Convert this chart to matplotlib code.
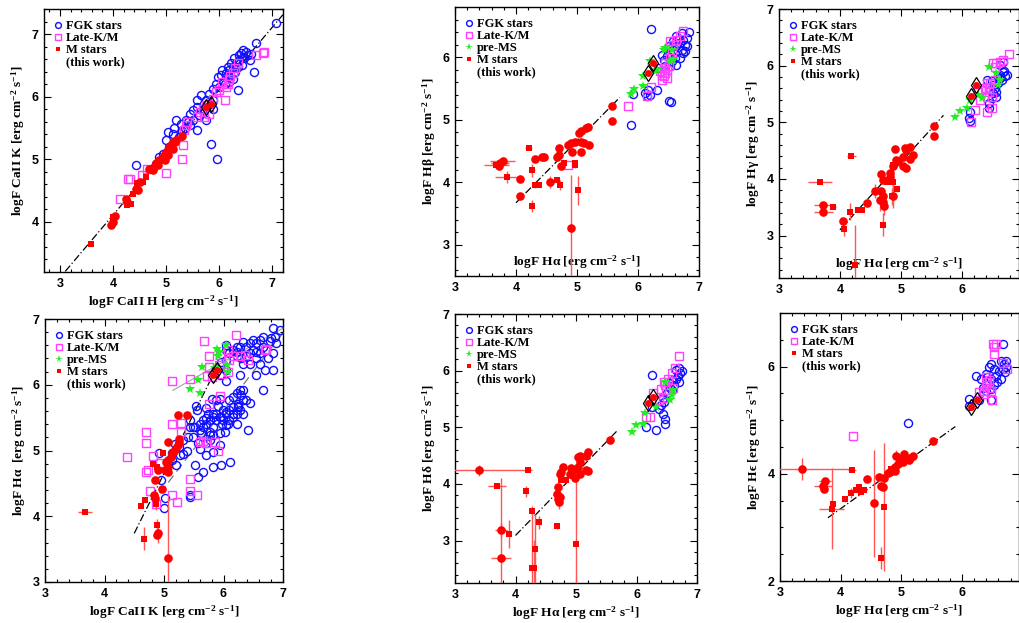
import matplotlib
matplotlib.use("Agg")
import matplotlib.pyplot as plt
from matplotlib.ticker import MultipleLocator
from matplotlib.lines import Line2D
import numpy as np

plt.rcParams['font.family'] = ['Liberation Serif', 'DejaVu Serif']
plt.rcParams['font.weight'] = 'bold'
plt.rcParams['mathtext.default'] = 'regular'

# ---------------- Panel 1 : CaII K vs CaII H ----------------
p1_fgk_x = [7.07,6.70,6.41,6.44,6.38,6.32,6.25,6.57,6.66,6.19,6.13,6.06,6.03,6.35,5.94,5.88,6.0,5.81,5.66,5.59,5.75,5.88,5.5,5.44,5.59,5.69,5.88,5.38,5.5,5.59,5.75,5.28,5.85,6.16,6.25,6.19,6.1,6.5,6.44,6.38,6.28,5.97,6.16,6.22,6.35,5.95,4.44,4.94,5.03,5.0,5.19,4.81,5.13,4.87,5.05,5.25,5.15,6.47,6.42,6.3,5.78,5.62,5.35,5.42,6.55,6.6,5.3,5.45]
p1_fgk_y = [7.18,6.85,6.69,6.64,6.59,6.53,6.48,6.59,6.40,6.43,6.37,6.43,6.35,6.11,6.21,6.13,6.16,6.05,6.03,5.95,5.95,5.95,5.79,5.73,5.84,5.81,5.81,5.63,5.63,5.47,5.63,5.57,5.25,6.32,6.29,6.24,6.21,6.72,6.75,6.67,6.61,6.32,6.48,6.53,6.48,5.0,4.91,5.09,5.44,5.31,5.63,4.93,5.41,5.04,5.2,5.35,5.5,6.62,6.5,6.4,5.88,5.7,5.5,5.6,6.66,6.68,5.45,5.55]
p1_lkm_x = [6.82,6.85,6.69,6.35,6.25,6.19,6.16,6.13,6.06,6.0,5.94,6.1,5.88,5.81,5.75,5.69,5.63,5.59,5.72,5.81,5.38,5.34,5.31,4.14,4.28,4.32,4.54,4.64,5.0,5.3,5.4,6.2,6.3]
p1_lkm_y = [6.69,6.71,6.66,6.53,6.37,6.29,6.21,6.16,6.24,6.11,6.08,5.95,5.97,5.89,5.87,5.81,5.76,5.68,5.68,5.73,5.55,5.47,5.23,4.37,4.69,4.69,4.75,4.85,4.78,5.01,5.6,6.33,6.45]
p1_pms_x = []
p1_pms_y = []
p1_mc_x = [3.97,4.0,4.03,4.24,4.27,4.47,4.44,4.5,4.67,4.72,4.78,4.81,4.87,4.94,4.97,5.0,5.03,5.06,5.09,5.13,5.16,5.19,5.3,4.97,4.84,4.75,5.13,5.03]
p1_mc_y = [3.95,4.0,4.09,4.36,4.32,4.51,4.53,4.64,4.84,4.85,4.88,4.94,4.99,5.04,5.09,5.12,5.15,5.2,5.23,5.28,5.28,5.31,5.37,4.99,4.91,4.83,5.17,5.07]
p1_mc_xerr = [0]*28
p1_mc_yerr = [0]*28
p1_ms_x = [3.59,4.0,4.0,4.27,4.33,4.37,4.45,4.56,4.62]
p1_ms_y = [3.65,4.08,3.98,4.27,4.28,4.44,4.62,4.64,4.72]
p1_ms_xerr = [0]*9
p1_ms_yerr = [0]*9
p1_dia_x = [5.75,5.85]
p1_dia_y = [5.84,5.89]

# ---------------- Panel 2 : Hbeta vs Halpha ----------------
p2_fgk_x = [6.22,6.84,5.89,6.19,6.14,6.11,6.17,6.31,6.50,6.54,5.92,6.42,6.47,6.52,6.58,6.63,6.69,6.74,6.80,6.66,6.72,6.77,6.61,6.55,6.44,6.63,6.74,6.5,6.39,6.69,6.81,6.58,6.63,6.33,6.52,6.72,6.77]
p2_fgk_y = [6.45,6.40,4.92,5.40,5.37,5.42,5.47,5.48,5.29,5.28,5.41,5.96,6.01,6.06,6.12,6.17,6.22,6.28,6.30,6.28,6.12,6.2,5.98,5.93,5.85,5.88,6.06,6.17,6.04,5.98,6.17,6.25,6.33,5.82,5.85,6.38,6.09]
p2_lkm_x = [5.84,6.21,6.15,4.85,6.74,6.39,6.42,6.44,6.47,6.5,6.44,6.52,6.55,6.58,6.63,6.69,6.39,6.42,6.47,6.36,6.52]
p2_lkm_y = [5.21,5.52,5.37,4.27,6.41,5.64,5.69,5.74,5.8,5.85,5.9,5.98,6.06,6.2,6.28,6.33,5.72,5.82,5.66,5.77,6.25]
p2_pms_x = [5.89,5.94,6.08,6.09,6.28,6.31,6.42,6.44,6.55,6.52,6.58,6.2]
p2_pms_y = [5.41,5.49,5.54,5.69,5.77,5.8,6.12,6.14,6.12,5.93,5.96,5.93]
p2_mc_x = [5.57,5.57,5.18,5.15,5.06,5.04,5.06,5.11,5.20,4.96,4.90,4.85,4.92,5.07,4.71,4.68,4.71,4.74,4.46,4.43,4.31,3.78,3.74,3.72,4.07,4.06,4.56,4.90]
p2_mc_y = [5.22,4.98,4.88,4.87,4.81,4.79,4.65,4.63,4.59,4.65,4.62,4.60,4.49,4.48,4.55,4.41,4.44,4.26,4.40,4.40,4.37,4.34,4.31,4.26,4.05,3.78,4.0,3.27]
p2_mc_xerr = [0,0,0,0,0,0,0,0,0,0,0,0,0,0,0,0,0,0,0,0,0,0.2,0.15,0,0,0,0,0]
p2_mc_yerr = [0,0,0,0,0,0,0,0,0,0,0,0,0.05,0,0,0,0,0.06,0,0,0,0,0,0,0,0,0.1,0.85]
p2_ms_x = [4.21,3.68,3.85,4.26,4.26,4.37,4.31,4.68,4.72,4.79,4.97,4.96,5.02]
p2_ms_y = [4.55,4.27,4.08,4.19,3.62,3.96,3.96,4.04,3.95,4.3,4.27,4.30,3.87]
p2_ms_xerr = [0.06,0.2,0.2,0.05,0,0.04,0,0,0,0,0,0,0]
p2_ms_yerr = [0,0,0.1,0.1,0.1,0,0.05,0,0.08,0,0.05,0,0.23]
p2_dia_x = [6.24,6.16]
p2_dia_y = [5.91,5.74]

# ---------------- Panel 3 : Hgamma vs Halpha ----------------
p3_fgk_x = [6.14,6.12,6.13,6.44,6.49,6.57,6.41,6.49,6.63,6.68,6.71,6.66,6.74,6.6,6.55,6.52,6.57,6.46,6.68,6.63,6.44,6.7,6.62,6.52]
p3_fgk_y = [5.03,5.07,5.19,5.34,5.42,5.45,5.75,5.72,5.84,5.89,5.81,5.75,5.84,5.69,5.6,5.51,5.54,5.57,6.07,6.01,5.25,5.9,5.78,5.65]
p3_lkm_x = [6.77,6.63,6.57,6.51,6.68,6.54,6.42,6.38,6.44,6.41,6.49,6.22,6.15,6.41,6.49,6.33,6.30,6.46,6.45,6.55,6.27]
p3_lkm_y = [6.21,6.07,6.05,6.05,6.1,5.98,5.69,5.6,5.54,5.45,5.45,5.21,5.01,5.19,5.25,5.57,5.39,5.69,5.63,5.75,5.54]
p3_pms_x = [5.89,5.97,6.08,6.44,6.27,6.33,6.57,6.63,6.6,6.14]
p3_pms_y = [5.09,5.2,5.25,5.98,5.48,5.42,5.87,5.75,5.66,5.39]
p3_mc_x = [5.55,5.55,5.15,5.09,5.07,5.2,5.15,4.90,5.03,4.96,5.04,5.09,4.87,4.92,4.82,4.71,4.68,4.83,4.57,4.68,4.70,4.65,4.72,4.71,4.87,4.44,4.05,3.73,3.73]
p3_mc_y = [4.94,4.76,4.57,4.51,4.55,4.42,4.36,4.52,4.39,4.31,4.22,4.19,4.22,4.34,4.1,3.98,4.09,4.04,3.79,3.78,3.69,3.63,3.52,3.6,3.69,3.57,3.25,3.42,3.54]
p3_mc_xerr = [0]*27 + [0.15,0.15]
p3_mc_yerr = [0]*18 + [0.12,0,0,0.2,0.15,0.15,0.2,0,0,0,0.05]
p3_ms_x = [3.67,4.19,3.89,4.07,4.17,4.29,4.37,4.24,4.70,4.78,4.87,4.87,4.94,4.86]
p3_ms_y = [3.95,4.41,3.51,3.12,3.42,3.45,3.45,2.48,3.19,3.94,3.95,4.24,3.82,3.69]
p3_ms_xerr = [0.2,0.07,0.05,0,0,0,0,0,0,0,0,0,0,0]
p3_ms_yerr = [0,0,0.05,0.12,0.15,0,0,0.7,0.2,0,0.2,0,0.05,0.15]
p3_dia_x = [6.16,6.24]
p3_dia_y = [5.47,5.65]

# ---------------- Panel 4 : Halpha vs CaII K ----------------
p4_fgk_x = [6.95,6.86,6.89,6.78,6.66,6.61,6.55,6.5,6.44,6.38,6.33,6.27,6.22,6.16,6.1,6.05,6.5,6.55,6.61,6.66,6.72,6.44,6.38,6.3,6.22,6.55,6.44,6.33,6.05,5.96,6.05,5.94,6.05,6.27,6.55,6.69,6.61,6.75,6.83,6.22,6.05,6.83,6.80,6.83,6.66,
            6.27,6.22,6.16,6.1,6.3,6.33,6.24,6.16,6.1,6.05,5.99,5.94,5.88,5.82,5.77,5.74,5.71,5.66,5.6,6.1,6.16,6.22,6.27,6.33,6.41,6.22,6.05,5.99,6.44,6.33,5.94,5.8,5.88,5.55,5.43,5.49,6.24,6.38,5.77,5.83,5.88,
            4.91,4.95,5.01,5.0,5.07,5.13,5.32,5.38,5.41,5.32,5.43,5.52,5.6,5.66,5.71,5.63,5.49,5.57,5.6,5.71,5.77,5.82,5.94,5.94,5.82,5.71,5.52,5.66,5.57,5.43,5.82,5.96,6.11,5.54,5.71,5.82,5.96,6.08,6.16,6.24,6.02,5.91,6.05,5.98,5.78,5.21,5.27,5.13,5.43,5.25,5.18]
p4_fgk_y = [6.84,6.73,6.63,6.66,6.73,6.68,6.63,6.68,6.63,6.58,6.65,6.58,6.58,6.53,6.48,6.53,6.53,6.5,6.48,6.58,6.53,6.48,6.43,6.4,6.43,6.4,6.32,6.32,6.38,6.35,6.22,6.15,6.05,6.15,6.15,6.22,6.32,6.4,6.48,6.5,6.6,6.86,6.71,6.22,5.92,
            5.92,5.87,5.82,5.77,5.84,5.77,5.71,5.66,5.61,5.56,5.61,5.51,5.46,5.51,5.46,5.56,5.41,5.36,5.31,5.46,5.51,5.56,5.61,5.56,5.31,5.41,5.39,5.46,5.72,5.92,5.79,5.78,5.56,5.61,5.46,5.36,5.66,5.77,5.23,5.36,5.77,
            4.96,4.55,4.27,4.12,4.8,4.85,4.95,5.0,5.21,5.16,5.36,5.36,5.41,5.46,5.49,5.26,5.21,5.11,5.03,5.11,5.16,5.23,5.26,5.08,4.98,4.93,4.78,4.68,4.6,4.32,4.75,4.78,4.83,5.67,5.64,5.56,5.51,5.41,5.56,5.67,5.28,5.67,5.59,5.4,5.28,4.78,4.93,4.96,4.3,5.05,5.1]
p4_lkm_x = [4.37,4.69,4.69,4.69,4.73,4.81,4.76,4.87,4.94,5.14,5.14,5.14,5.22,5.29,5.44,5.44,5.44,5.55,5.60,5.67,5.75,5.75,5.72,5.76,5.91,5.94,5.85,5.94,5.97,6.08,6.1,6.08,6.21,6.16,6.27,6.41,6.36,6.69,6.72,5.92,5.81,5.28,5.65,5.7]
p4_lkm_y = [4.90,5.28,5.12,4.68,4.70,4.91,4.38,4.19,4.81,6.06,5.41,4.33,4.22,5.42,6.08,4.57,4.38,4.32,5.13,6.67,5.70,6.43,6.13,6.27,5.0,5.83,5.13,6.45,6.17,6.2,6.38,6.53,6.75,6.43,6.43,6.38,6.45,6.53,6.55,6.3,6.12,5.28,5.15,5.12]
p4_pms_x = [5.89,6.04,5.93,5.64,5.91,6.06,6.08,5.57,5.43,5.6,5.85]
p4_pms_y = [6.55,6.6,6.5,6.27,6.43,6.3,6.2,6.07,5.94,5.88,6.25]
p4_mc_x = [5.24,5.38,5.06,5.26,5.25,5.23,5.2,5.17,5.14,5.11,5.07,5.04,5.07,5.01,5.06,4.9,4.85,4.96,4.83,4.85,5.06,4.9,4.88]
p4_mc_y = [5.54,5.54,5.13,5.18,5.13,5.08,5.04,5.0,4.96,4.9,4.86,4.83,4.75,4.7,4.67,4.7,4.55,4.42,4.32,4.27,3.37,3.74,3.72]
p4_mc_xerr = [0]*22 + [0.05]
p4_mc_yerr = [0]*20 + [0.9,0.15,0]
p4_ms_x = [4.99,4.82,4.89,4.68,4.61,4.87,4.66,4.88,3.67]
p4_ms_y = [4.96,4.79,4.75,4.24,4.15,4.19,3.66,3.86,4.07]
p4_ms_xerr = [0,0,0,0,0,0,0,0,0.12]
p4_ms_yerr = [0,0,0,0,0,0.1,0.17,0.1,0.02]
p4_dia_x = [5.83,5.89]
p4_dia_y = [6.15,6.23]

# ---------------- Panel 5 : Hdelta vs Halpha ----------------
p5_fgk_x = [6.15,6.25,6.33,6.47,6.44,6.38,6.47,6.26,6.43,6.6,6.66,6.55,6.62,6.68,6.72,6.7,6.5,6.58,6.65,6.75,6.53,6.45,6.4,6.7]
p5_fgk_y = [5.0,5.36,4.96,5.15,5.24,5.33,5.06,5.92,5.51,5.83,6.01,5.7,5.75,5.9,5.95,5.8,5.6,5.65,5.85,6.0,5.78,5.45,5.4,6.05]
p5_lkm_x = [6.70,6.22,6.16,6.27,6.45,6.58,6.63,6.52,6.44,6.38,6.49,6.47,6.6,6.41]
p5_lkm_y = [6.26,5.18,5.18,5.6,5.8,5.95,6.04,5.86,5.51,5.48,5.65,5.74,5.69,5.68]
p5_pms_x = [5.92,5.99,6.11,6.14,6.33,6.47,6.58,6.6,6.55]
p5_pms_y = [4.91,5.04,5.06,5.26,5.36,5.8,5.57,5.65,5.48]
p5_mc_x = [5.57,5.2,5.17,5.06,5.04,5.06,5.03,5.17,5.2,4.95,4.9,4.76,4.79,4.73,4.71,4.73,4.71,4.68,4.72,5.06,4.92,4.98,3.39,3.76,3.76]
p5_mc_y = [4.77,4.56,4.5,4.5,4.47,4.39,4.3,4.25,4.23,4.24,4.18,4.21,4.3,4.18,3.94,3.77,3.74,3.83,3.68,4.18,4.28,4.1,4.24,3.18,2.7]
p5_mc_xerr = [0]*22 + [0.85,0.1,0.17]
p5_mc_yerr = [0]*18 + [0.12,0,0,0,0.1,0.13,1.4]
p5_ms_x = [3.69,3.89,4.18,4.27,4.27,4.31,4.32,4.39,4.68,5.0,4.76,4.84,4.21]
p5_ms_y = [3.97,3.12,3.87,3.53,2.51,2.51,2.85,3.32,3.26,2.94,4.06,4.06,4.24]
p5_ms_xerr = [0.15,0,0.03,0,0,0,0,0.03,0,0,0,0,0.06]
p5_ms_yerr = [0,0.25,0.1,0.08,1.0,0.5,0.62,0.12,0.05,1.2,0,0,0]
p5_dia_x = [6.19,6.27]
p5_dia_y = [5.43,5.54]

# ---------------- Panel 6 : Hepsilon vs Halpha ----------------
p6_fgk_x = [6.67,6.64,6.69,6.72,6.48,6.45,6.53,6.61,6.67,6.23,6.31,6.39,6.42,6.48,6.56,6.58,6.53,6.48,6.39,6.34,6.64,6.12,6.12,6.28,6.48,6.72,6.71,5.11]
p6_fgk_y = [6.42,6.11,6.05,6.11,6.05,5.99,5.96,5.92,5.96,5.83,5.77,5.86,5.8,5.77,5.83,5.71,5.65,5.58,5.55,5.61,5.77,5.4,5.27,5.37,5.37,5.99,5.89,4.95]
p6_lkm_x = [6.51,6.56,6.53,6.53,6.67,6.75,6.39,6.42,6.39,6.45,6.37,6.48,6.34,6.28,6.49,4.2,6.45]
p6_lkm_y = [6.42,6.42,6.36,6.24,6.06,5.96,5.8,5.71,5.65,5.61,5.55,5.55,5.49,5.52,5.37,4.71,5.75]
p6_pms_x = []
p6_pms_y = []
p6_mc_x = [5.53,5.19,5.13,5.05,5.08,5.03,4.94,4.91,4.89,4.86,4.81,4.78,4.89,4.64,4.71,4.7,4.67,4.44,4.55,3.37,3.74,3.71,3.72,5.15,5.0]
p6_mc_y = [4.62,4.34,4.25,4.37,4.28,4.22,4.19,4.34,4.12,4.09,4.03,4.01,4.06,3.94,3.93,3.75,3.78,3.91,3.45,4.09,3.86,3.78,3.72,4.3,4.28]
p6_mc_xerr = [0]*19 + [0.85,0.1,0.15,0,0,0]
p6_mc_yerr = [0,0,0,0,0,0,0,0.1,0,0,0,0,0,0.05,0,0,0,0,1.0,0.2,0.05,0,0,0,0]
p6_ms_x = [3.85,3.87,4.07,4.17,4.26,4.34,4.38,4.31,4.71,4.66,4.83,4.19]
p6_ms_y = [3.35,3.43,3.53,3.64,3.69,3.66,3.69,3.75,3.38,2.43,4.09,4.07]
p6_ms_xerr = [0.2,0,0,0,0,0,0,0,0,0,0,0.07]
p6_ms_yerr = [0.75,0,0.05,0.1,0,0,0,0,1.2,0.2,0,0]
p6_dia_x = [6.15,6.24]
p6_dia_y = [5.25,5.38]

# fitted relations: (slope, intercept, x_start, x_end)
p1_fit = (1.0, 0.11, 3.1, 7.2)
p2_fit = (0.99, -0.29, 4.0, 5.7)
p3_fit = (1.19, -1.66, 4.0, 5.7)
p4_fit = (1.82, -4.45, 4.5, 5.85)
p4_fit_gray = (0.51, 3.29, 5.15, 7.0)
p4_fit_dash = (1.18, -1.47, 4.93, 7.0)
p5_fit = (1.1, -1.31, 4.0, 5.69)
p6_fit = (0.81, 0.11, 3.79, 5.89)

lab_unit = r' [erg cm$^{-2}$ s$^{-1}$]'
DASHDOT = (0, (6, 2, 1, 2))
panels = [
    dict(pos=[44, 9, 283, 272], xlim=(2.7, 7.2), ylim=(3.2, 7.4), ymaj=1, ymin=0.2,
         xl='logF CaII H' + lab_unit, yl='logF CaII K' + lab_unit, xin=False,
         fgk=(p1_fgk_x, p1_fgk_y), lkm=(p1_lkm_x, p1_lkm_y), pms=(p1_pms_x, p1_pms_y),
         mc=(p1_mc_x, p1_mc_y, p1_mc_xerr, p1_mc_yerr), ms=(p1_ms_x, p1_ms_y, p1_ms_xerr, p1_ms_yerr),
         dia=(p1_dia_x, p1_dia_y), fits=[(p1_fit, 'k', DASHDOT)], haspms=False),
    dict(pos=[455, 7, 699, 276], xlim=(3, 7), ylim=(2.5, 6.8), ymaj=1, ymin=0.2,
         xl='logF Hα' + lab_unit, yl='logF Hβ' + lab_unit, xin=True,
         fgk=(p2_fgk_x, p2_fgk_y), lkm=(p2_lkm_x, p2_lkm_y), pms=(p2_pms_x, p2_pms_y),
         mc=(p2_mc_x, p2_mc_y, p2_mc_xerr, p2_mc_yerr), ms=(p2_ms_x, p2_ms_y, p2_ms_xerr, p2_ms_yerr),
         dia=(p2_dia_x, p2_dia_y), fits=[(p2_fit, 'k', DASHDOT)], haspms=True),
    dict(pos=[779, 9, 1019, 278], xlim=(3, 6.94), ylim=(2.25, 7), ymaj=1, ymin=0.2,
         xl='logF Hα' + lab_unit, yl='logF Hγ' + lab_unit, xin=True,
         fgk=(p3_fgk_x, p3_fgk_y), lkm=(p3_lkm_x, p3_lkm_y), pms=(p3_pms_x, p3_pms_y),
         mc=(p3_mc_x, p3_mc_y, p3_mc_xerr, p3_mc_yerr), ms=(p3_ms_x, p3_ms_y, p3_ms_xerr, p3_ms_yerr),
         dia=(p3_dia_x, p3_dia_y), fits=[(p3_fit, 'k', DASHDOT)], haspms=True),
    dict(pos=[45, 319, 283, 582], xlim=(3, 7), ylim=(3, 7), ymaj=1, ymin=0.2,
         xl='logF CaII K' + lab_unit, yl='logF Hα ' + lab_unit, xin=False,
         fgk=(p4_fgk_x, p4_fgk_y), lkm=(p4_lkm_x, p4_lkm_y), pms=(p4_pms_x, p4_pms_y),
         mc=(p4_mc_x, p4_mc_y, p4_mc_xerr, p4_mc_yerr), ms=(p4_ms_x, p4_ms_y, p4_ms_xerr, p4_ms_yerr),
         dia=(p4_dia_x, p4_dia_y),
         fits=[(p4_fit_gray, '#aaaaaa', '-'), (p4_fit_dash, '#777777', (0, (7, 4))),
               (p4_fit, 'k', DASHDOT)], haspms=True),
    dict(pos=[455, 314, 697, 583], xlim=(3, 7), ylim=(2.25, 7), ymaj=1, ymin=0.2,
         xl='logF Hα' + lab_unit, yl='logF Hδ' + lab_unit, xin=False,
         fgk=(p5_fgk_x, p5_fgk_y), lkm=(p5_lkm_x, p5_lkm_y), pms=(p5_pms_x, p5_pms_y),
         mc=(p5_mc_x, p5_mc_y, p5_mc_xerr, p5_mc_yerr), ms=(p5_ms_x, p5_ms_y, p5_ms_xerr, p5_ms_yerr),
         dia=(p5_dia_x, p5_dia_y), fits=[(p5_fit, 'k', DASHDOT)], haspms=True),
    dict(pos=[780, 313, 1019, 581], xlim=(3, 6.94), ylim=(2, 7), ymaj=2, ymin=0.5,
         xl='logF Hα' + lab_unit, yl='logF Hϵ' + lab_unit, xin=False,
         fgk=(p6_fgk_x, p6_fgk_y), lkm=(p6_lkm_x, p6_lkm_y), pms=(p6_pms_x, p6_pms_y),
         mc=(p6_mc_x, p6_mc_y, p6_mc_xerr, p6_mc_yerr), ms=(p6_ms_x, p6_ms_y, p6_ms_xerr, p6_ms_yerr),
         dia=(p6_dia_x, p6_dia_y), fits=[(p6_fit, 'k', DASHDOT)], haspms=False),
]

W, H = 1020, 623
fig = plt.figure(figsize=(W / 100, H / 100), dpi=100)

BLUE = '#1010ff'
MAG = '#ff40ff'
GREEN = '#22ee22'
RED = '#ff0000'
ERR = '#ff5555'
LABFS = 9.6
LEGFS = 9.0

for p in panels:
    l, t, r, b = p['pos']
    ax = fig.add_axes([l / W, 1 - b / H, (r - l) / W, (b - t) / H])
    ax.set_xlim(*p['xlim'])
    ax.set_ylim(*p['ylim'])
    for (s, c, x0, x1), col, ls in p['fits']:
        xx = np.array([x0, x1])
        ax.plot(xx, s * xx + c, color=col, lw=0.9, ls=ls, zorder=2)
    fx, fy = p['fgk']
    ax.plot(fx, fy, ls='', marker='o', ms=5.8, mfc='none', mec=BLUE, mew=1.0, zorder=3)
    lx, ly = p['lkm']
    ax.plot(lx, ly, ls='', marker='s', ms=5.2, mfc='none', mec=MAG, mew=1.0, zorder=3)
    px, py = p['pms']
    if len(px):
        ax.plot(px, py, ls='', marker='*', ms=7, color=GREEN, mew=0, zorder=4)
    cx, cy, cxe, cye = p['mc']
    ax.errorbar(cx, cy, xerr=cxe, yerr=cye, fmt='o', ms=6.2, color=RED, ecolor=ERR,
                elinewidth=1.0, capsize=1.2, mew=0, zorder=5)
    sx, sy, sxe, sye = p['ms']
    ax.errorbar(sx, sy, xerr=sxe, yerr=sye, fmt='s', ms=3.8, color=RED, ecolor=ERR,
                elinewidth=1.0, capsize=1.2, mew=0, zorder=5)
    dx, dy = p['dia']
    ax.plot(dx, dy, ls='', marker='d', ms=8, mfc='none', mec='k', mew=0.9, zorder=6)
    ax.plot(dx, dy, ls='', marker='o', ms=5, color=RED, mew=0, zorder=7)

    ax.xaxis.set_major_locator(MultipleLocator(1))
    ax.xaxis.set_minor_locator(MultipleLocator(0.2))
    ax.yaxis.set_major_locator(MultipleLocator(p['ymaj']))
    ax.yaxis.set_minor_locator(MultipleLocator(p['ymin']))
    ax.tick_params(which='both', direction='in', top=True, right=True, width=0.8,
                   labelsize=9, labelfontfamily='Liberation Sans')
    ax.tick_params(which='major', length=5, pad=4)
    ax.tick_params(which='minor', length=2.5)
    for sp in ax.spines.values():
        sp.set_linewidth(1.0)

    if p['xin']:
        ax.text(0.5, 0.05, p['xl'], transform=ax.transAxes, ha='center', va='center',
                fontsize=LABFS, fontweight='bold')
    else:
        ax.set_xlabel(p['xl'], fontsize=LABFS, fontweight='bold', labelpad=3)
    ax.set_ylabel(p['yl'], fontsize=LABFS, fontweight='bold', labelpad=3)

    handles = [Line2D([], [], ls='', marker='o', ms=4.2, mfc='none', mec=BLUE, mew=1.0),
               Line2D([], [], ls='', marker='s', ms=4.0, mfc='none', mec=MAG, mew=1.0)]
    labels = ['FGK stars', 'Late-K/M']
    if p['haspms']:
        handles.append(Line2D([], [], ls='', marker='*', ms=5.5, color=GREEN, mew=0))
        labels.append('pre-MS')
    handles.append(Line2D([], [], ls='', marker='s', ms=3.5, color=RED, mew=0))
    labels.append('M stars')
    handles.append(Line2D([], [], ls='', marker=''))
    labels.append('(this work)')
    ax.legend(handles, labels, loc='upper left', frameon=False,
              handlelength=0.5, handletextpad=0.35, labelspacing=0.0,
              borderaxespad=0.55, borderpad=0.35,
              prop=dict(family='Liberation Serif', weight='bold', size=LEGFS))

fig.savefig('out.png', dpi=100)
